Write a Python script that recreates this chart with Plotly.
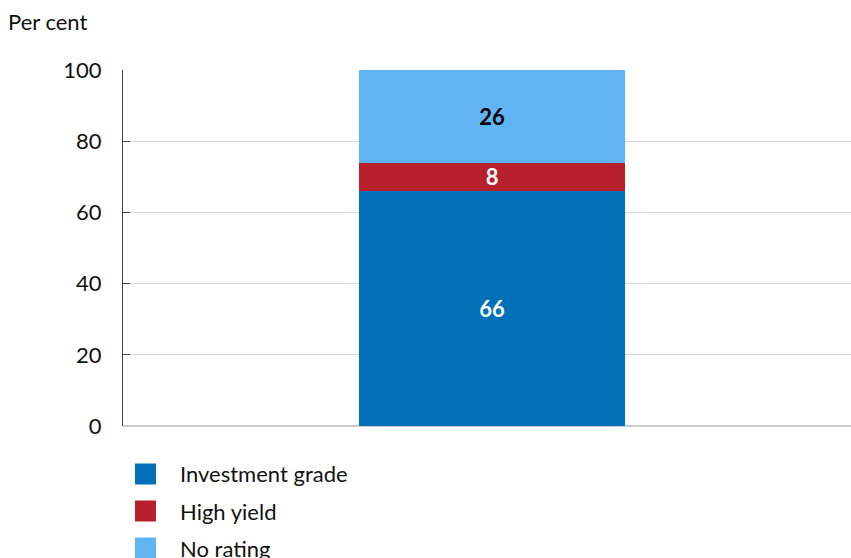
import plotly.graph_objects as go

# Rating breakdown of the portfolio, per cent
categories = ["Total"]
series_names = ["Investment grade", "High yield", "No rating"]
series_values = [[66], [8], [26]]
series_colors = ["#0070b8", "#b81f2d", "#60b4f2"]
label_colors = ["white", "white", "black"]
y_ticks = [0, 20, 40, 60, 80, 100]

FONT = "Lato, 'Open Sans', sans-serif"
TXT = "#111111"
FS = 22

fig = go.Figure()
for name, vals, col, lcol in zip(series_names, series_values, series_colors, label_colors):
    fig.add_trace(go.Bar(
        x=categories, y=vals, name=name,
        marker=dict(color=col, line=dict(width=0)),
        width=0.365,
        text=vals, texttemplate="<b>%{text}</b>",
        textposition="inside", insidetextanchor="middle",
        textangle=0, constraintext="none",
        textfont=dict(family=FONT, size=FS, color=lcol),
        showlegend=False, hoverinfo="skip",
    ))

# Legend: square swatches with labels stacked below the plot
leg_x0, leg_y0, leg_dy, sw = 135, 474, 37, 21
for i, (name, col) in enumerate(zip(series_names, series_colors)):
    yc = leg_y0 + i * leg_dy
    fig.add_shape(type="rect", xref="paper", yref="paper",
                  x0=(leg_x0 - 123) / 728, x1=(leg_x0 + sw - 123) / 728,
                  y0=(426 - (yc - sw / 2)) / 356, y1=(426 - (yc + sw / 2)) / 356,
                  fillcolor=col, line=dict(width=0))
    fig.add_annotation(xref="paper", yref="paper",
                       x=(178 - 123) / 728, y=(426 - yc) / 356,
                       xanchor="left", yanchor="middle", showarrow=False,
                       text=name, font=dict(family=FONT, size=FS, color=TXT))

fig.add_annotation(xref="paper", yref="paper", x=(6 - 123) / 728, y=(426 - 22) / 356,
                   xanchor="left", yanchor="middle", showarrow=False,
                   text="Per cent", font=dict(family=FONT, size=FS, color=TXT))

fig.update_layout(
    barmode="stack",
    width=851, height=558,
    margin=dict(l=123, r=0, t=70, b=132),
    paper_bgcolor="white", plot_bgcolor="white",
    font=dict(family=FONT, size=FS, color=TXT),
    xaxis=dict(showticklabels=False, showgrid=False, zeroline=False,
               showline=False, ticks="", range=[-0.507, 0.493]),
    yaxis=dict(range=[0, 100], tickvals=y_ticks, showgrid=True,
               gridcolor="#d9d9d9", gridwidth=1,
               zeroline=True, zerolinecolor="#cccccc", zerolinewidth=2,
               showline=True, linecolor="#404040", linewidth=1,
               ticks="inside", ticklen=7, tickcolor="#404040",
               ticklabelstandoff=16,
               tickfont=dict(family=FONT, size=FS, color=TXT)),
)

fig.write_html("out.html")
